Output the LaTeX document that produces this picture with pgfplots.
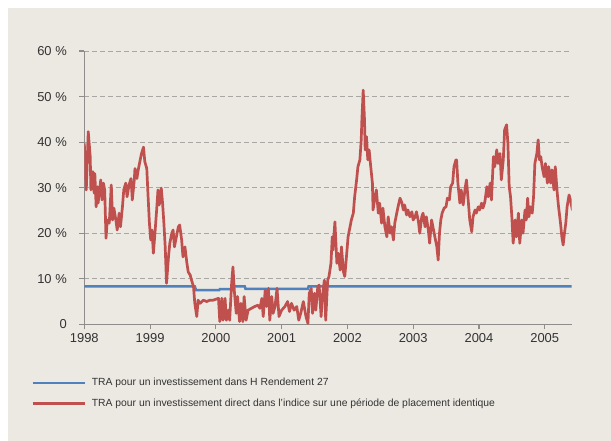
\documentclass[border=0pt]{standalone}
\usepackage{pgfplots}
\pgfplotsset{compat=1.18}
\usepackage{fontspec}
\setmainfont{Liberation Sans}
\definecolor{bg}{HTML}{ECE8E2}
\definecolor{ured}{HTML}{C0504D}
\definecolor{ublue}{HTML}{4F81BD}
\definecolor{gridc}{HTML}{A9A7A4}
\definecolor{axc}{HTML}{8E8D8B}
\definecolor{txt}{HTML}{333333}
\begin{document}
\begin{tikzpicture}
\path[use as bounding box, fill=white] (0,0) rectangle (611bp,441bp);
\fill[bg] (8bp,0) rectangle (611bp,433bp);
\begin{axis}[
  at={(84.3bp,116.7bp)}, anchor=south west,
  scale only axis, width=487.4bp, height=273.3bp,
  xmin=1998, xmax=2005.41, ymin=0, ymax=60,
  axis lines=left, axis line style={-, draw=axc, line width=1.3bp},
  xtick={1998,1999,2000,2001,2002,2003,2004,2005},
  xticklabels={1998,1999,2000,2001,2002,2003,2004,2005},
  ytick={0,10,20,30,40,50,60},
  yticklabels={0,10 \%,20 \%,30 \%,40 \%,50 \%,60 \%},
  tick align=outside, major tick length=5bp,
  tick style={draw=axc, line width=1.1bp},
  ymajorgrids, major grid style={draw=gridc, line width=0.9bp, dash pattern=on 5bp off 3bp},
  ticklabel style={font=\fontsize{13}{15}\selectfont, text=txt},
  yticklabel style={xshift=-9bp},
  xticklabel style={yshift=-1bp},
  legend style={at={(axis description cs:-0.1094,-0.195)}, anchor=north west,
    draw=none, fill=none, inner sep=0pt, row sep=11bp,
    font=\fontsize{10.4}{12}\selectfont, text=txt,
    nodes={inner sep=0pt, text height=8bp, text depth=2bp}},
  legend cell align=left,
  legend image code/.code={\draw[#1] (0bp,0bp) -- (52bp,0bp);},
  /tikz/every odd column/.append style={column sep=6bp},
]
\addplot[ublue, line width=2.5bp] coordinates {
(1998.0,8.3) (1999.68,8.3) (1999.70,7.5) (2000.05,7.5) (2000.06,7.7) (2000.23,7.7) (2000.24,8.3) (2000.44,8.3) (2000.45,7.8) (2001.40,7.8) (2001.41,8.3) (2005.45,8.3)
};
\addlegendentry{TRA pour un investissement dans H Rendement 27}
\addplot[ured, line width=2.7bp, line join=round] coordinates {
(1998.00,39.7) (1998.03,29.5) (1998.06,42.3) (1998.09,36.8) (1998.10,29.5) (1998.13,33.5) (1998.15,28.8) (1998.16,33.1) (1998.18,25.8) (1998.20,30.2)
(1998.21,26.6) (1998.25,31.7) (1998.27,27.3) (1998.29,31.0) (1998.31,29.5) (1998.33,18.9) (1998.35,22.9) (1998.38,22.2) (1998.41,30.6) (1998.43,22.9)
(1998.45,25.5) (1998.48,22.9) (1998.50,20.7) (1998.53,24.4) (1998.55,21.4) (1998.58,25.8) (1998.60,29.5) (1998.63,31.0) (1998.65,28.0) (1998.68,30.6)
(1998.71,32.0) (1998.73,27.3) (1998.76,31.7) (1998.77,34.2) (1998.80,32.0) (1998.82,33.9) (1998.85,36.1) (1998.87,37.5) (1998.90,38.9) (1998.92,35.7)
(1998.95,34.2) (1998.97,28.0) (1998.99,22.2) (1999.01,18.5) (1999.03,20.7) (1999.05,15.6) (1999.07,19.2) (1999.10,25.1) (1999.12,29.5) (1999.14,26.2)
(1999.17,29.9) (1999.19,26.6) (1999.21,22.2) (1999.23,17.0) (1999.25,9.0) (1999.28,14.8) (1999.30,17.8) (1999.33,20.0) (1999.35,20.7) (1999.37,17.0)
(1999.40,19.2) (1999.43,21.4) (1999.45,21.8) (1999.48,18.5) (1999.50,14.8) (1999.53,17.0) (1999.56,13.4) (1999.58,11.5) (1999.61,10.8) (1999.63,9.7)
(1999.66,8.3) (1999.68,4.6) (1999.71,1.7) (1999.73,5.3) (1999.76,4.6) (1999.81,5.3) (1999.86,5.0) (1999.91,5.3) (1999.96,5.3) (2000.04,5.7)
(2000.06,0.6) (2000.09,5.7) (2000.11,0.9) (2000.14,5.7) (2000.16,0.9) (2000.19,3.1) (2000.21,0.9) (2000.24,9.0) (2000.26,12.6) (2000.28,7.5)
(2000.31,2.4) (2000.33,6.1) (2000.36,0.6) (2000.38,4.6) (2000.41,0.6) (2000.43,6.1) (2000.46,0.9) (2000.49,3.1) (2000.54,3.5) (2000.59,3.9)
(2000.64,4.2) (2000.67,3.5) (2000.70,5.7) (2000.72,1.7) (2000.75,7.5) (2000.77,3.9) (2000.80,7.9) (2000.82,0.9) (2000.85,6.1) (2000.87,2.4)
(2000.90,3.9) (2000.93,7.9) (2000.96,1.7) (2001.00,3.1) (2001.05,3.9) (2001.09,5.0) (2001.12,2.8) (2001.15,4.6) (2001.19,3.1) (2001.23,3.9)
(2001.26,0.9) (2001.29,2.4) (2001.33,5.0) (2001.37,1.7) (2001.40,0.2) (2001.42,6.8) (2001.45,7.9) (2001.47,2.4) (2001.50,6.8) (2001.52,3.1)
(2001.55,8.3) (2001.57,8.6) (2001.60,1.7) (2001.62,6.1) (2001.65,9.7) (2001.67,0.9) (2001.70,9.7) (2001.72,10.5) (2001.75,13.4) (2001.77,19.2)
(2001.78,16.3) (2001.81,22.5) (2001.84,13.4) (2001.86,15.6) (2001.89,11.9) (2001.91,17.0) (2001.94,11.5) (2001.96,10.5) (2001.99,15.6) (2002.01,19.2)
(2002.04,21.4) (2002.06,22.9) (2002.09,24.4) (2002.11,28.0) (2002.14,31.7) (2002.16,34.6) (2002.19,36.1) (2002.21,40.5) (2002.22,44.9) (2002.24,51.4)
(2002.26,44.9) (2002.27,38.3) (2002.29,41.2) (2002.31,36.1) (2002.33,38.3) (2002.35,35.3) (2002.38,31.0) (2002.39,25.1) (2002.42,28.0) (2002.44,29.5)
(2002.47,24.4) (2002.49,26.6) (2002.52,22.2) (2002.54,25.5) (2002.57,21.4) (2002.60,19.2) (2002.62,23.6) (2002.65,20.0) (2002.67,21.4) (2002.70,18.5)
(2002.72,22.2) (2002.75,24.4) (2002.77,25.8) (2002.80,27.7) (2002.83,26.6) (2002.85,25.1) (2002.87,26.2) (2002.90,24.0) (2002.92,25.1) (2002.95,23.6)
(2002.98,24.7) (2003.00,22.9) (2003.03,23.6) (2003.05,24.7) (2003.08,22.5) (2003.10,20.0) (2003.13,23.6) (2003.15,24.4) (2003.18,21.4) (2003.20,23.6)
(2003.23,20.7) (2003.25,17.8) (2003.28,22.9) (2003.30,21.4) (2003.33,19.2) (2003.36,17.0) (2003.38,14.1) (2003.40,20.0) (2003.42,22.9) (2003.44,24.4)
(2003.47,25.5) (2003.50,25.8) (2003.52,27.7) (2003.55,27.3) (2003.57,30.2) (2003.60,31.0) (2003.62,34.6) (2003.65,36.1) (2003.66,36.1) (2003.68,31.0)
(2003.71,26.6) (2003.73,29.5) (2003.76,26.2) (2003.79,29.9) (2003.81,31.7) (2003.84,26.6) (2003.86,22.9) (2003.89,20.3) (2003.91,23.6) (2003.94,25.1)
(2003.96,24.4) (2003.99,25.8) (2004.01,25.1) (2004.04,26.6) (2004.06,25.5) (2004.09,26.9) (2004.12,30.2) (2004.14,28.0) (2004.17,31.0) (2004.19,27.3)
(2004.22,36.8) (2004.24,34.6) (2004.27,38.3) (2004.29,35.3) (2004.32,37.5) (2004.34,31.7) (2004.37,36.1) (2004.39,42.7) (2004.42,43.8) (2004.44,39.7)
(2004.46,30.2) (2004.48,28.0) (2004.50,23.6) (2004.52,17.8) (2004.55,22.9) (2004.57,19.2) (2004.60,24.4) (2004.62,17.8) (2004.65,22.9) (2004.67,20.0)
(2004.70,25.1) (2004.72,22.9) (2004.74,27.7) (2004.76,23.6) (2004.78,25.8) (2004.81,24.4) (2004.83,28.0) (2004.85,35.3) (2004.88,37.5) (2004.90,40.5)
(2004.92,36.1) (2004.94,36.8) (2004.96,34.6) (2004.99,32.4) (2005.01,35.3) (2005.04,31.0) (2005.06,34.6) (2005.09,31.0) (2005.11,33.9) (2005.14,29.5)
(2005.16,34.6) (2005.19,28.8) (2005.21,25.8) (2005.24,22.2) (2005.26,19.2) (2005.28,17.4) (2005.30,20.0) (2005.32,22.2) (2005.34,25.8) (2005.37,28.4)
(2005.39,27.3) (2005.42,25.1) (2005.44,27.7)
};
\addlegendentry{TRA pour un investissement direct dans l'indice sur une période de placement identique}
\end{axis}
\end{tikzpicture}
\end{document}
